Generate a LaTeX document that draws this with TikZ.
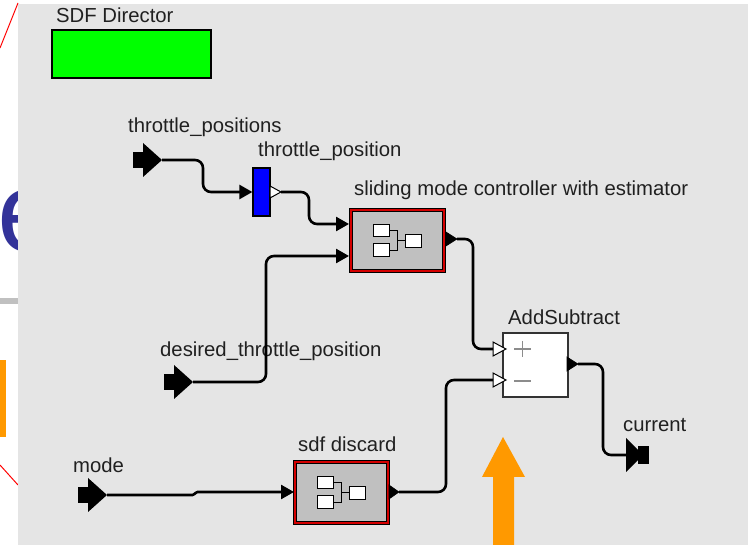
\documentclass[tikz,border=0pt]{standalone}
\usepackage{fontspec}
\setmainfont{Liberation Sans}
\usetikzlibrary{arrows.meta}
\definecolor{canvas}{HTML}{E5E5E5}
\definecolor{actorgray}{HTML}{C0C0C0}
\definecolor{frame}{HTML}{D40000}
\definecolor{slideblue}{HTML}{333399}
\definecolor{slideorange}{HTML}{FF9900}
\definecolor{labeltext}{HTML}{202020}
\tikzset{
  wire/.style={line width=2.6pt, rounded corners=8pt},
  wirein/.style={wire, -{Triangle[length=13pt,width=14pt]}},
  lbl/.style={font=\fontsize{20.3}{23}\selectfont, text=labeltext, inner sep=0pt, anchor=base west},
  composite/.style={rectangle, fill=actorgray, draw=black, line width=0.8pt,
    double=frame, double distance=2.6pt, inner sep=0pt},
  iconbox/.style={fill=white, draw=black, line width=1pt},
  outtri/.style={fill=black, draw=black, line width=0.6pt},
  opentri/.style={fill=white, draw=black, line width=1pt},
  pics/inport/.style={code={
    \fill[black] (-29,-8) rectangle (-13,8);
    \fill[black] (-19,-17) -- (0,0) -- (-19,17) -- cycle;
  }},
  pics/outport/.style={code={
    \fill[black] (0,-17) -- (17,0) -- (0,17) -- cycle;
    \fill[black] (12,-9) rectangle (23,9);
  }},
  pics/compicon/.style={code={
    \draw[iconbox] (-24,-16) rectangle (-8,-4);
    \draw[iconbox] (-24,3) rectangle (-8,16);
    \draw[iconbox] (8,-6) rectangle (24,7);
    \draw[line width=1pt] (-8,-10) -- (0,-10) -- (0,10) -- (-8,10);
    \draw[line width=1pt] (0,0.5) -- (8,0.5);
  }},
}
\begin{document}
\begin{tikzpicture}[x=1pt,y=-1pt]
\useasboundingbox (0,0) rectangle (748,545);
\fill[white] (0,0) rectangle (748,545);

% slide fragments on the left margin, partly hidden by the model canvas
\begin{scope}
\clip (0,0) rectangle (18,545);
\node[font=\fontsize{115}{120}\selectfont, text=slideblue, inner sep=0pt, anchor=base west] (slidee) at (-3,252) {e};
\end{scope}
\draw[red, line width=1pt] (0,48) -- (18,3);
\fill[actorgray] (0,298) rectangle (18,304);
\fill[slideorange] (0,360) rectangle (6,437);
\draw[red, line width=1pt] (0,465) -- (18,485);

% model canvas
\fill[canvas] (18,4) rectangle (748,545);

% director
\node[lbl] (dirlabel) at (56,23) {SDF Director};
\node[draw=black, line width=1.2pt, fill=green, minimum width=159pt, minimum height=48pt, inner sep=0pt] (director) at (131.5,54) {};

% external ports
\coordinate (tps) at (162,160);
\coordinate (dtp) at (193,382);
\coordinate (mode) at (107,495);
\coordinate (current) at (626,455);
\pic at (tps) {inport};
\pic at (dtp) {inport};
\pic at (mode) {inport};
\pic at (current) {outport};
\node[lbl] (tpslabel) at (128,133) {throttle\_positions};
\node[lbl] (dtplabel) at (160,357) {desired\_throttle\_position};
\node[lbl] (modelabel) at (73,473) {mode};
\node[lbl] (curlabel) at (623,432) {current};

% throttle_position relation
\node[draw=black, line width=1.2pt, fill=blue, minimum width=17pt, minimum height=48pt, inner sep=0pt] (tp) at (261.5,192) {};
\node[lbl] (tplabel) at (258,157) {throttle\_position};
\draw[opentri] (270,186) -- (281,192) -- (270,198) -- cycle;
\coordinate (tp-out) at (281,192);

% sliding mode controller
\node[composite, minimum width=93pt, minimum height=61pt] (ctrl) at (397.5,240.5) {};
\pic at (ctrl) {compicon};
\node[lbl] (ctrllabel) at (354,196) {sliding mode controller with estimator};
\draw[outtri] (446,232) -- (457,239) -- (446,246) -- cycle;
\coordinate (ctrl-out) at (457,239);
\coordinate (ctrl-in1) at (349,224);
\coordinate (ctrl-in2) at (349,256);

% sdf discard
\node[composite, minimum width=93pt, minimum height=61pt] (discard) at (341.5,492.5) {};
\pic at (discard) {compicon};
\node[lbl] (disclabel) at (298,452) {sdf discard};
\draw[outtri] (389,485) -- (399,492) -- (389,499) -- cycle;
\coordinate (disc-out) at (399,492);
\coordinate (disc-in) at (294,492);

% AddSubtract
\node[draw=black!80, line width=1.2pt, fill=white, minimum width=65pt, minimum height=64pt, inner sep=0pt] (addsub) at (535.5,365) {};
\node[lbl] (addlabel) at (508,325) {AddSubtract};
\draw[opentri] (493,342) -- (506,349) -- (493,356) -- cycle;
\draw[opentri] (493,373) -- (506,380) -- (493,387) -- cycle;
\draw[black!45, line width=1.6pt] (514,349) -- (531,349) (522.5,341) -- (522.5,357);
\draw[black!45, line width=1.6pt] (514,381) -- (531,381);
\draw[outtri] (567,357) -- (578,364) -- (567,371) -- cycle;
\coordinate (add-plus) at (493,349);
\coordinate (add-minus) at (493,380);
\coordinate (add-out) at (578,364);

% connections
\draw[wirein] (tps) -- (203,160) -- (203,192) -- (tp.west);
\draw[wirein] (tp-out) -- (309,192) -- (309,224) -- (ctrl-in1);
\draw[wirein] (dtp) -- (266,382) -- (266,256) -- (ctrl-in2);
\draw[wire] (ctrl-out) -- (473,239) -- (473,349) -- (add-plus);
\draw[wirein, rounded corners=1.5pt] (mode) -- (194,495) -- (196,492) -- (disc-in);
\draw[wire] (disc-out) -- (446,492) -- (446,380) -- (add-minus);
\draw[wire] (add-out) -- (603,364) -- (603,455) -- (current);

% highlight arrow
\fill[slideorange] (503,437) -- (525,477) -- (514,477) -- (514,545) -- (493,545) -- (493,477) -- (482,477) -- cycle;
\end{tikzpicture}
\end{document}
